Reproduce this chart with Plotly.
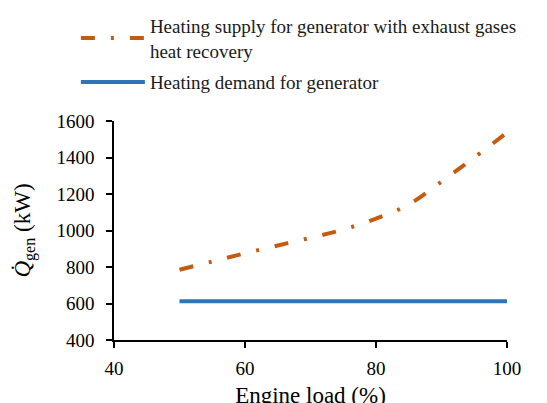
import plotly.graph_objects as go

engine_load = [50, 55, 60, 65, 70, 75, 80, 85, 90, 95, 100]
supply_kw = [785, 830, 875, 918, 960, 1005, 1065, 1142, 1268, 1400, 1536]
demand_load = [50, 100]
demand_kw = [612, 612]

supply_name = "Heating supply for generator with exhaust gases<br>heat recovery"
demand_name = "Heating demand for generator"

font_family = "Liberation Serif"

fig = go.Figure()
fig.add_trace(go.Scatter(
    x=engine_load, y=supply_kw, mode="lines", name=supply_name, legendgroup="a",
    line=dict(color="#C55A11", width=4, dash="14px,16px,3px,16px", shape="spline"),
))
fig.add_trace(go.Scatter(
    x=demand_load, y=demand_kw, mode="lines", name=demand_name, legendgroup="b",
    line=dict(color="#2E75B6", width=4),
))

fig.update_layout(
    width=547, height=403,
    margin=dict(l=106, r=48, t=113, b=71, autoexpand=False),
    paper_bgcolor="white", plot_bgcolor="white",
    font=dict(family=font_family, size=19, color="black"),
    showlegend=True,
    legend=dict(
        x=-0.097, y=1.522, xanchor="left", yanchor="top",
        font=dict(family=font_family, size=19, color="#1a1a1a"),
        itemwidth=64, traceorder="grouped", tracegroupgap=4,
        bgcolor="rgba(0,0,0,0)",
    ),
    xaxis=dict(
        range=[40, 100], tickvals=[40, 60, 80, 100],
        showline=True, linecolor="black", linewidth=1.5,
        ticks="outside", ticklen=6, tickcolor="black", tickwidth=1.5,
        showgrid=False, zeroline=False, ticklabelstandoff=4,
        title=dict(text="Engine load (%)", standoff=9),
    ),
    yaxis=dict(
        range=[400, 1600], tickvals=[400, 600, 800, 1000, 1200, 1400, 1600],
        showline=True, linecolor="black", linewidth=1.5,
        ticks="outside", ticklen=6, tickcolor="black", tickwidth=1.5,
        showgrid=False, zeroline=False, ticklabelstandoff=8,
        title=dict(text="<i>Q\u0307</i><sub>gen</sub> (kW)", standoff=19),
    ),
)

fig.write_html("out.html")
